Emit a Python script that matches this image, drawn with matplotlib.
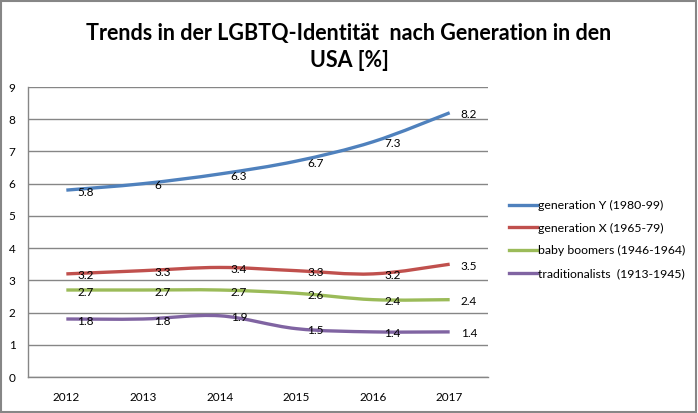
import numpy as np
import matplotlib.pyplot as plt
from matplotlib.path import Path
from matplotlib.patches import PathPatch, Rectangle
from matplotlib.lines import Line2D

years = ["2012", "2013", "2014", "2015", "2016", "2017"]
gen_y = [5.8, 6.0, 6.3, 6.7, 7.3, 8.2]
gen_x = [3.2, 3.3, 3.4, 3.3, 3.2, 3.5]
boomers = [2.7, 2.7, 2.7, 2.6, 2.4, 2.4]
traditionalists = [1.8, 1.8, 1.9, 1.5, 1.4, 1.4]

series_names = [
    "generation Y (1980-99)",
    "generation X (1965-79)",
    "baby boomers (1946-1964)",
    "traditionalists  (1913-1945)",
]
colors = ["#4F81BD", "#C0504D", "#9BBB59", "#8064A2"]

title = "Trends in der LGBTQ-Identität  nach Generation in den\nUSA [%]"

plt.rcParams["font.family"] = ["Lato", "DejaVu Sans"]


def smooth_path(xs, ys):
    # Excel-style smoothed line: cubic bezier through the data points
    xs = np.asarray(xs, float)
    ys = np.asarray(ys, float)
    verts = [(xs[0], ys[0])]
    codes = [Path.MOVETO]
    n = len(xs)
    for i in range(n - 1):
        x0, y0 = (xs[i - 1], ys[i - 1]) if i > 0 else (xs[i], ys[i])
        x3, y3 = (xs[i + 2], ys[i + 2]) if i + 2 < n else (xs[i + 1], ys[i + 1])
        c1 = (xs[i] + (xs[i + 1] - x0) / 6, ys[i] + (ys[i + 1] - y0) / 6)
        c2 = (xs[i + 1] - (x3 - xs[i]) / 6, ys[i + 1] - (y3 - ys[i]) / 6)
        verts += [c1, c2, (xs[i + 1], ys[i + 1])]
        codes += [Path.CURVE4] * 3
    return Path(verts, codes)


fig = plt.figure(figsize=(6.98, 4.13), dpi=100)
fig.patches.append(Rectangle((0.002, 0.003), 0.995, 0.994, transform=fig.transFigure,
                             fill=False, edgecolor="#868686", linewidth=1.5))

ax = fig.add_axes([28 / 698, 36 / 413, 460 / 698, 290 / 413])
x = np.arange(len(years))
all_series = [gen_y, gen_x, boomers, traditionalists]

for vals, color in zip(all_series, colors):
    ax.add_patch(PathPatch(smooth_path(x, vals), fill=False, edgecolor=color,
                           linewidth=2.4, capstyle="butt", zorder=3))
    for xi, v in zip(x, vals):
        label = f"{v:g}"
        ax.annotate(label, (xi, v), xytext=(8, -1.5), textcoords="offset points",
                    ha="left", va="center", fontsize=8.5, zorder=4)

ax.set_xlim(-0.5, len(years) - 0.5)
ax.set_ylim(0, 9)
ax.set_yticks(range(10))
ax.set_xticks(x)
ax.set_xticklabels(years)
ax.tick_params(length=0, labelsize=8.5, colors="black")
ax.tick_params(axis="x", pad=11)
ax.tick_params(axis="y", pad=9)
ax.yaxis.grid(True, color="#868686", linewidth=1)
ax.set_axisbelow(True)
for side in ["top", "right"]:
    ax.spines[side].set_visible(False)
for side in ["left", "bottom"]:
    ax.spines[side].set_color("#868686")
    ax.spines[side].set_linewidth(1)

handles = [Line2D([0], [0], color=c, linewidth=2.4) for c in colors]
fig.legend(handles, series_names, loc="upper left", bbox_to_anchor=(498 / 698, 1 - 189 / 413),
           frameon=False, handlelength=2.3, handletextpad=0.1,
           labelspacing=0.95, prop={"size": 8.8})

fig.text(0.5, 1 - 47 / 413, title, ha="center", va="center", fontsize=15.5,
         fontweight="bold", linespacing=1.3)

fig.savefig("out.png", dpi=100)
